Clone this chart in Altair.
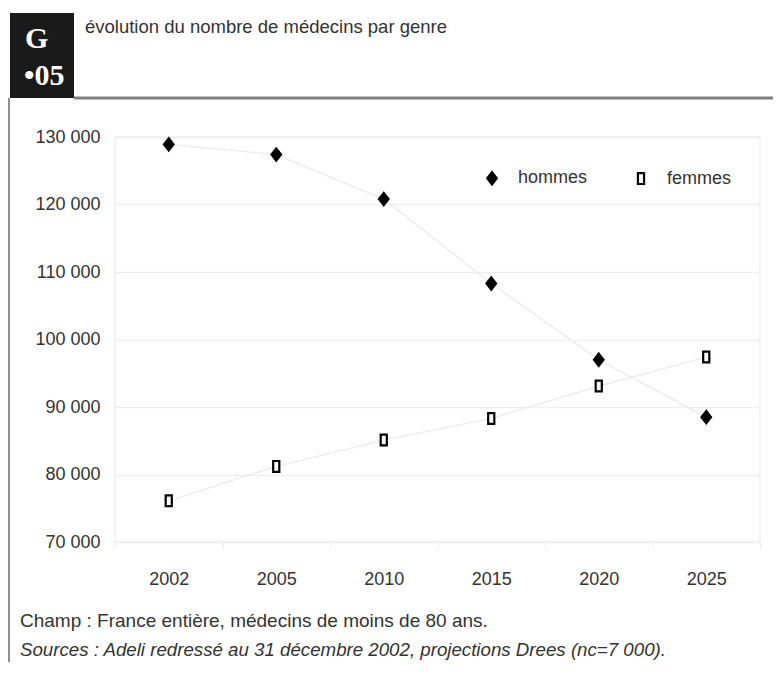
import altair as alt
import pandas as pd

# ---- data ----
years = ["2002", "2005", "2010", "2015", "2020", "2025"]
hommes = [128900, 127400, 120800, 108300, 97000, 88500]
femmes = [76100, 81200, 85100, 88300, 93100, 97400]
series = ["hommes", "femmes"]
y_ticks = [70000, 80000, 90000, 100000, 110000, 120000, 130000]

title_text = "évolution du nombre de médecins par genre"
box_line1 = "G"
box_line2 = "•05"
footer1 = "Champ : France entière, médecins de moins de 80 ans."
footer2 = "Sources : Adeli redressé au 31 décembre 2002, projections Drees (nc=7 000)."

df = pd.DataFrame({
    "annee": years * 2,
    "genre": [series[0]] * len(years) + [series[1]] * len(years),
    "valeur": hommes + femmes,
})

FONT = "Liberation Sans, Arial, sans-serif"
SERIF = "Liberation Serif, DejaVu Serif, serif"
TXT = "#333333"

W, H = 645, 405
PAD = {"left": 107, "top": 129, "right": 13, "bottom": 120}

diamond = "M0,-1 L0.78,0 L0,1 L-0.78,0 Z"
rect = "M-0.5,-0.88 L0.5,-0.88 L0.5,0.88 L-0.5,0.88 Z"
SYM = 150

xenc = alt.X("annee:N", sort=years,
             scale=alt.Scale(type="band", paddingInner=0, paddingOuter=0),
             axis=alt.Axis(title=None, labelAngle=0, labelFontSize=18, labelFont=FONT,
                           labelColor=TXT, labelPadding=22, domain=False,
                           ticks=True, tickColor="#eeeeee", tickSize=6, tickBand="extent",
                           grid=False))
yenc = alt.Y("valeur:Q",
             scale=alt.Scale(domain=[70000, 130000], nice=False, zero=False),
             axis=alt.Axis(title=None, values=y_ticks, labelFontSize=18, labelFont=FONT,
                           labelColor=TXT, labelPadding=15, domain=False, ticks=False,
                           grid=True, gridColor="#f0f0f0", gridWidth=1.5,
                           labelExpr="floor(datum.value/1000) + ' 000'"))

lines = alt.Chart(df).mark_line(color="#ebebeb", strokeWidth=1.3).encode(
    x=xenc, y=yenc, detail="genre:N"
)

def leg():
    return alt.Legend(title=None, orient="none", legendX=368, legendY=32,
                      direction="horizontal", labelFontSize=18, labelFont=FONT,
                      labelColor=TXT, symbolSize=SYM, symbolStrokeWidth=2.2,
                      labelOffset=17, columnPadding=44)

points = alt.Chart(df).mark_point(filled=True, strokeWidth=2.2, opacity=1).encode(
    x=xenc, y=yenc,
    shape=alt.Shape("genre:N", sort=series,
                    scale=alt.Scale(domain=series, range=[diamond, rect]), legend=leg()),
    fill=alt.Fill("genre:N", sort=series,
                  scale=alt.Scale(domain=series, range=["black", "white"]), legend=leg()),
    stroke=alt.Stroke("genre:N", sort=series,
                      scale=alt.Scale(domain=series, range=["black", "black"]), legend=leg()),
    size=alt.value(SYM),
)

def one(text):
    return pd.DataFrame({"t": [text]})

box = alt.Chart(one("")).mark_rect(color="#1a1a1a").encode(
    x=alt.value(-105), x2=alt.value(-41), y=alt.value(-124), y2=alt.value(-39)
)
header_line = alt.Chart(one("")).mark_rule(color="#808080", strokeWidth=3).encode(
    x=alt.value(-41), x2=alt.value(658), y=alt.value(-39)
)
left_line = alt.Chart(one("")).mark_rule(color="#909090", strokeWidth=2).encode(
    x=alt.value(-106), y=alt.value(-39), y2=alt.value(530)
)
g_txt = alt.Chart(one(box_line1)).mark_text(font=SERIF, fontSize=30, fontWeight="bold",
                                            color="white", align="left", baseline="middle").encode(
    x=alt.value(-90), y=alt.value(-98), text="t:N"
)
n_txt = alt.Chart(one(box_line2)).mark_text(font=SERIF, fontSize=30, fontWeight="bold",
                                            color="white", align="left", baseline="middle").encode(
    x=alt.value(-91), y=alt.value(-61), text="t:N"
)
title = alt.Chart(one(title_text)).mark_text(font=FONT, fontSize=18.5, color=TXT,
                                             align="left", baseline="middle").encode(
    x=alt.value(-30), y=alt.value(-110), text="t:N"
)
f1 = alt.Chart(one(footer1)).mark_text(font=FONT, fontSize=19, color=TXT,
                                       align="left", baseline="middle").encode(
    x=alt.value(-95), y=alt.value(484), text="t:N"
)
f2 = alt.Chart(one(footer2)).mark_text(font=FONT, fontSize=18.7, color=TXT, fontStyle="italic",
                                       align="left", baseline="middle").encode(
    x=alt.value(-95), y=alt.value(513), text="t:N"
)

chart = alt.layer(lines, points, box, header_line, left_line, g_txt, n_txt, title, f1, f2).properties(
    width=W, height=H,
    autosize=alt.AutoSizeParams(type="none"),
    padding=PAD,
    background="white",
).configure_view(stroke="#f0f0f0", strokeWidth=1.5)

chart.save("out.html", embed_options={"renderer": "svg", "actions": False})
